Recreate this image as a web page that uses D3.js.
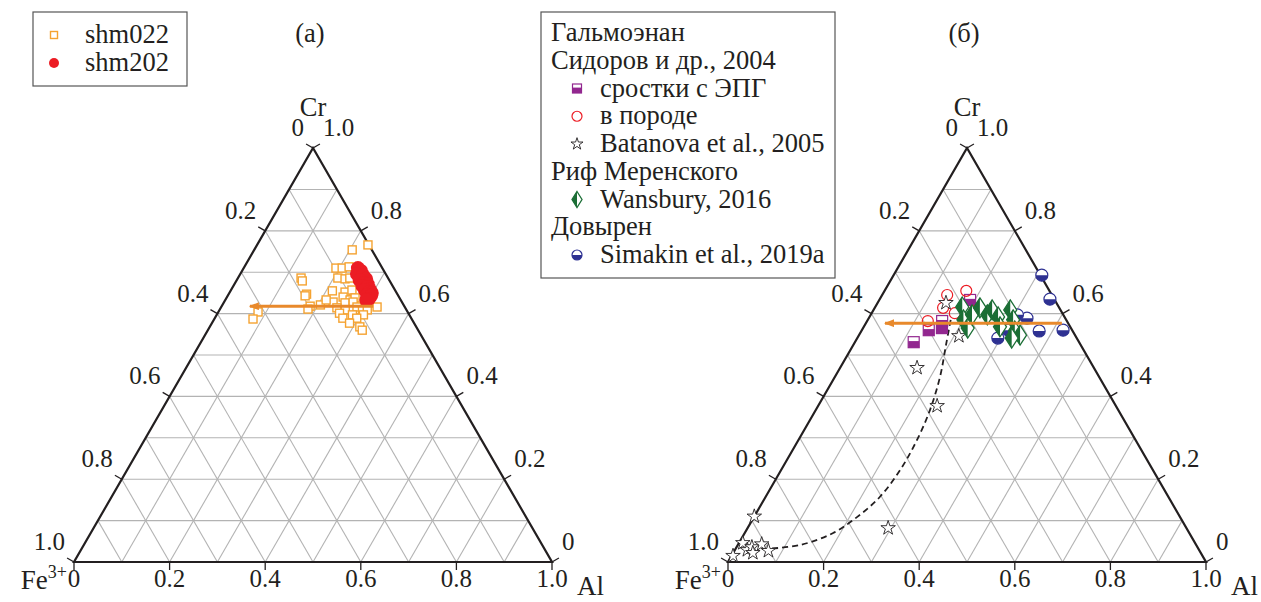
<!DOCTYPE html>
<html>
<head>
<meta charset="utf-8">
<script src="https://cdn.jsdelivr.net/npm/d3@7"></script>
<style>
  body { margin: 0; background: #fff; }
  svg { display: block; }
  svg text { font-family: 'Liberation Serif', 'DejaVu Serif', serif; }
</style>
</head>
<body>
<div id="chart"></div>
<script>
// All points are [Al, Cr] fractions; Fe3+ = 1 - Al - Cr

// panel (a)
const shm022 = [
  [0.232, 0.766], [0.205, 0.754], [0.193, 0.710], [0.206, 0.710], [0.219, 0.713],
  [0.132, 0.686], [0.138, 0.679], [0.209, 0.686], [0.225, 0.684], [0.234, 0.686],
  [0.163, 0.647], [0.162, 0.643], [0.213, 0.655], [0.241, 0.652], [0.253, 0.657],
  [0.243, 0.640], [0.261, 0.633], [0.269, 0.638], [0.228, 0.628], [0.254, 0.626],
  [0.270, 0.628], [0.185, 0.618], [0.205, 0.621], [0.184, 0.611], [0.243, 0.614],
  [0.263, 0.609], [0.284, 0.616], [0.299, 0.609], [0.309, 0.609], [0.326, 0.616],
  [0.083, 0.604], [0.081, 0.587], [0.255, 0.601], [0.284, 0.597], [0.307, 0.597],
  [0.297, 0.589], [0.268, 0.589], [0.288, 0.577], [0.314, 0.568], [0.323, 0.560],
  [0.211, 0.633]
];
const shm202 = [
  [0.239, 0.710], [0.249, 0.703], [0.244, 0.696], [0.258, 0.693], [0.269, 0.684],
  [0.257, 0.681], [0.270, 0.674], [0.279, 0.671], [0.270, 0.667], [0.281, 0.664],
  [0.289, 0.659], [0.280, 0.657], [0.291, 0.652], [0.298, 0.650], [0.291, 0.645],
  [0.300, 0.643], [0.299, 0.635], [0.295, 0.633]
];
const trendA = [[0.317, 0.618], [0.059, 0.618]];

// panel (б)
const sidorovIntergrowth = [
  [0.123, 0.531], [0.140, 0.560], [0.165, 0.565], [0.157, 0.582], [0.190, 0.633]
];
const sidorovRock = [
  [0.136, 0.645], [0.171, 0.655], [0.143, 0.614], [0.127, 0.582], [0.174, 0.601],
  [0.212, 0.606]
];
const batanova = [
  [0.143, 0.626], [0.210, 0.546], [0.161, 0.469], [0.249, 0.377], [0.294, 0.082],
  [0.000, 0.110], [0.003, 0.015], [0.008, 0.046], [0.026, 0.029], [0.032, 0.036],
  [0.041, 0.022], [0.049, 0.043], [0.071, 0.027]
];
const batanovaTrend = [
  [0.056, 0.031], [0.130, 0.041], [0.185, 0.070], [0.216, 0.109], [0.239, 0.157],
  [0.249, 0.222], [0.248, 0.295], [0.239, 0.367], [0.220, 0.447], [0.194, 0.524],
  [0.172, 0.589]
];
const wansbury = [
  [0.182, 0.616], [0.200, 0.585], [0.219, 0.565], [0.212, 0.597], [0.220, 0.614],
  [0.244, 0.597], [0.248, 0.609], [0.269, 0.592], [0.285, 0.568], [0.286, 0.609],
  [0.304, 0.585], [0.321, 0.558], [0.337, 0.548], [0.323, 0.541]
];
const simakin = [
  [0.310, 0.693], [0.356, 0.635], [0.421, 0.560], [0.372, 0.558], [0.331, 0.589],
  [0.307, 0.597], [0.294, 0.541], [0.306, 0.560]
];
const trendB = [[0.410, 0.577], [0.040, 0.577]];

const tickValues = [0, 0.2, 0.4, 0.6, 0.8, 1.0];
const gridValues = d3.range(1, 10).map(i => i / 10);

const legendA = ['shm022', 'shm202'];
const legendB = [
  { text: 'Гальмоэнан', mark: null },
  { text: 'Сидоров и др., 2004', mark: null },
  { text: 'сростки с ЭПГ', mark: 'square' },
  { text: 'в породе', mark: 'ring' },
  { text: 'Batanova et al., 2005', mark: 'star' },
  { text: 'Риф Меренского', mark: null },
  { text: 'Wansbury, 2016', mark: 'diamond' },
  { text: 'Довырен', mark: null },
  { text: 'Simakin et al., 2019a', mark: 'halfcircle' }
];

const colors = {
  orange: '#f5a331', red: '#ec1c24', arrow: '#e8892b', purple: '#92278f',
  green: '#1b6e35', blue: '#2e3192', grid: '#b3b3b3', ink: '#231f20'
};

const width = 1261, height = 602;
const svg = d3.select('#chart').append('svg')
  .attr('width', width).attr('height', height);

svg.append('defs').append('marker')
  .attr('id', 'arrowhead')
  .attr('markerUnits', 'userSpaceOnUse')
  .attr('markerWidth', 12).attr('markerHeight', 10)
  .attr('refX', 9).attr('refY', 4)
  .attr('orient', 'auto')
  .append('path')
  .attr('d', 'M0,0 L10,4 L0,8 Z')
  .attr('fill', colors.arrow);

// marker painters (draw into a g centred at 0,0)
function drawSquareHalf(g, s) {
  g.append('rect').attr('x', -s / 2).attr('y', -s / 2).attr('width', s).attr('height', s)
    .attr('fill', '#fff').attr('stroke', colors.purple).attr('stroke-width', 1.2);
  g.append('rect').attr('x', -s / 2).attr('y', -s / 2 + s * 0.4).attr('width', s).attr('height', s * 0.6)
    .attr('fill', colors.purple);
}
function drawRing(g, r) {
  g.append('circle').attr('r', r).attr('fill', 'none')
    .attr('stroke', colors.red).attr('stroke-width', 1.2);
}
function drawStar(g, size) {
  g.append('path').attr('d', d3.symbol(d3.symbolStar, size)())
    .attr('fill', '#fff').attr('stroke', colors.ink).attr('stroke-width', 0.9);
}
function drawDiamond(g, w, h) {
  g.append('path').attr('d', `M0,${-h} L${w},0 L0,${h} L${-w},0 Z`)
    .attr('fill', '#fff').attr('stroke', colors.green).attr('stroke-width', 1.3);
  g.append('path').attr('d', `M0,${-h} L${-w},0 L0,${h} Z`)
    .attr('fill', colors.green);
}
function drawHalfCircle(g, r) {
  g.append('circle').attr('r', r).attr('fill', '#fff')
    .attr('stroke', colors.blue).attr('stroke-width', 1.2);
  g.append('path').attr('d', `M${-r},0 A${r},${r} 0 0 0 ${r},0 Z`)
    .attr('fill', colors.blue);
}

function fmt(v) { return v === 0 ? '0' : v.toFixed(1); }

function ternaryPanel(left, title) {
  const side = 478;
  const tall = side * Math.sqrt(3) / 2;
  const bottom = 562;
  const x = d3.scaleLinear().domain([0, 1]).range([left, left + side]);
  const y = d3.scaleLinear().domain([0, 1]).range([bottom, bottom - tall]);
  const px = d => x(d[0] + d[1] / 2);
  const py = d => y(d[1]);

  const g = svg.append('g');

  // grid, every 0.1 in the three directions
  const gridLines = [];
  gridValues.forEach(t => {
    gridLines.push([[0, t], [1 - t, t]]);       // constant Cr
    gridLines.push([[t, 0], [t, 1 - t]]);       // constant Al
    gridLines.push([[1 - t, 0], [0, 1 - t]]);   // constant Fe
  });
  g.append('g').selectAll('line').data(gridLines).join('line')
    .attr('x1', d => px(d[0])).attr('y1', d => py(d[0]))
    .attr('x2', d => px(d[1])).attr('y2', d => py(d[1]))
    .attr('stroke', colors.grid).attr('stroke-width', 1.1);

  // outline
  const corners = [[0, 0], [1, 0], [0, 1]];
  g.append('path')
    .attr('d', 'M' + corners.map(c => px(c) + ',' + py(c)).join('L') + 'Z')
    .attr('fill', 'none').attr('stroke', colors.ink).attr('stroke-width', 2.2);

  const c30 = Math.cos(Math.PI / 6), s30 = 0.5, tl = 8;
  const axes = [
    { pt: v => [v, 0], dx: 0, dy: tl },                 // Al, bottom
    { pt: v => [0, 1 - v], dx: -c30 * tl, dy: -s30 * tl }, // Fe, left
    { pt: v => [1 - v, v], dx: c30 * tl, dy: -s30 * tl }   // Cr, right
  ];
  axes.forEach(a => {
    g.append('g').selectAll('line').data(tickValues).join('line')
      .attr('x1', v => px(a.pt(v))).attr('y1', v => py(a.pt(v)))
      .attr('x2', v => px(a.pt(v)) + a.dx).attr('y2', v => py(a.pt(v)) + a.dy)
      .attr('stroke', colors.ink).attr('stroke-width', 1.3);
  });

  const label = g.append('g').attr('font-size', 25).attr('fill', colors.ink);
  label.selectAll('.tb').data(tickValues).join('text').attr('class', 'tb')
    .attr('x', v => px(axes[0].pt(v))).attr('y', bottom + 25)
    .attr('text-anchor', 'middle').text(fmt);
  label.selectAll('.tl').data(tickValues).join('text').attr('class', 'tl')
    .attr('x', v => px(axes[1].pt(v)) - 9).attr('y', v => py(axes[1].pt(v)) - 12)
    .attr('text-anchor', 'end').text(fmt);
  label.selectAll('.tr').data(tickValues).join('text').attr('class', 'tr')
    .attr('x', v => px(axes[2].pt(v)) + 10).attr('y', v => py(axes[2].pt(v)) - 12)
    .attr('text-anchor', 'start').text(fmt);

  const fe = label.append('text').attr('x', x(0) - 7).attr('y', bottom + 27)
    .attr('text-anchor', 'end').attr('font-size', 27);
  fe.append('tspan').text('Fe');
  fe.append('tspan').attr('font-size', 18).attr('dy', -11).text('3+');
  label.append('text').attr('x', x(1) + 25).attr('y', bottom + 33)
    .attr('font-size', 27).text('Al');
  label.append('text').attr('x', px([0, 1])).attr('y', py([0, 1]) - 32)
    .attr('font-size', 26.5).attr('text-anchor', 'middle').text('Cr');
  label.append('text').attr('x', px([0, 1]) - 3).attr('y', 42)
    .attr('font-size', 26.5).attr('text-anchor', 'middle').text(title);

  return { g, px, py };
}

// ---- panel (а)
const pa = ternaryPanel(74, '(а)');
pa.g.append('g').selectAll('rect').data(shm022).join('rect')
  .attr('x', d => pa.px(d) - 4).attr('y', d => pa.py(d) - 4)
  .attr('width', 8).attr('height', 8)
  .attr('fill', '#fff').attr('stroke', colors.orange).attr('stroke-width', 1.4);
pa.g.append('g').selectAll('circle').data(shm202).join('circle')
  .attr('cx', pa.px).attr('cy', pa.py).attr('r', 7)
  .attr('fill', colors.red);
pa.g.append('line')
  .attr('x1', pa.px(trendA[0])).attr('y1', pa.py(trendA[0]))
  .attr('x2', pa.px(trendA[1])).attr('y2', pa.py(trendA[1]))
  .attr('stroke', colors.arrow).attr('stroke-width', 3)
  .attr('marker-end', 'url(#arrowhead)');

// ---- panel (б)
const pb = ternaryPanel(728, '(б)');
pb.g.append('path')
  .attr('d', d3.line().x(pb.px).y(pb.py).curve(d3.curveCatmullRom)(batanovaTrend))
  .attr('fill', 'none').attr('stroke', colors.ink).attr('stroke-width', 1.8)
  .attr('stroke-dasharray', '6,4');

function placeMarks(data, painter) {
  pb.g.append('g').selectAll('g').data(data).join('g')
    .attr('transform', d => `translate(${pb.px(d)},${pb.py(d)})`)
    .each(function() { painter(d3.select(this)); });
}
placeMarks(simakin, s => drawHalfCircle(s, 6));
placeMarks(sidorovIntergrowth, s => drawSquareHalf(s, 11));
placeMarks(sidorovRock, s => drawRing(s, 5.5));
placeMarks(batanova, s => drawStar(s, 65));
placeMarks(wansbury, s => drawDiamond(s, 6.5, 10));

pb.g.append('line')
  .attr('x1', pb.px(trendB[0])).attr('y1', pb.py(trendB[0]))
  .attr('x2', pb.px(trendB[1])).attr('y2', pb.py(trendB[1]))
  .attr('stroke', colors.arrow).attr('stroke-width', 3)
  .attr('marker-end', 'url(#arrowhead)');

// ---- legend (а)
const la = svg.append('g').attr('font-size', 26.5).attr('fill', colors.ink);
la.append('rect').attr('x', 33).attr('y', 12).attr('width', 154).attr('height', 74)
  .attr('fill', '#fff').attr('stroke', '#555').attr('stroke-width', 1.2);
la.append('rect').attr('x', 50.5).attr('y', 31.5).attr('width', 7).attr('height', 7)
  .attr('fill', '#fff').attr('stroke', colors.orange).attr('stroke-width', 1.4);
la.append('circle').attr('cx', 54).attr('cy', 63).attr('r', 5).attr('fill', colors.red);
la.selectAll('text').data(legendA).join('text')
  .attr('x', 85).attr('y', (d, i) => 43 + i * 28).text(d => d);

// ---- legend (б)
const lb = svg.append('g').attr('font-size', 26.5).attr('fill', colors.ink);
lb.append('rect').attr('x', 541).attr('y', 12).attr('width', 294).attr('height', 266)
  .attr('fill', '#fff').attr('stroke', '#555').attr('stroke-width', 1.2);
const rowY = i => 41 + i * 27.75;
lb.selectAll('text').data(legendB).join('text')
  .attr('x', d => d.mark ? 600 : 551).attr('y', (d, i) => rowY(i)).text(d => d.text);
legendB.forEach((d, i) => {
  if (!d.mark) return;
  const m = lb.append('g').attr('transform', `translate(577,${rowY(i) - 8})`);
  if (d.mark === 'square') drawSquareHalf(m, 9);
  if (d.mark === 'ring') drawRing(m, 5);
  if (d.mark === 'star') drawStar(m, 45);
  if (d.mark === 'diamond') drawDiamond(m, 5, 8);
  if (d.mark === 'halfcircle') drawHalfCircle(m, 5);
});
</script>
</body>
</html>
